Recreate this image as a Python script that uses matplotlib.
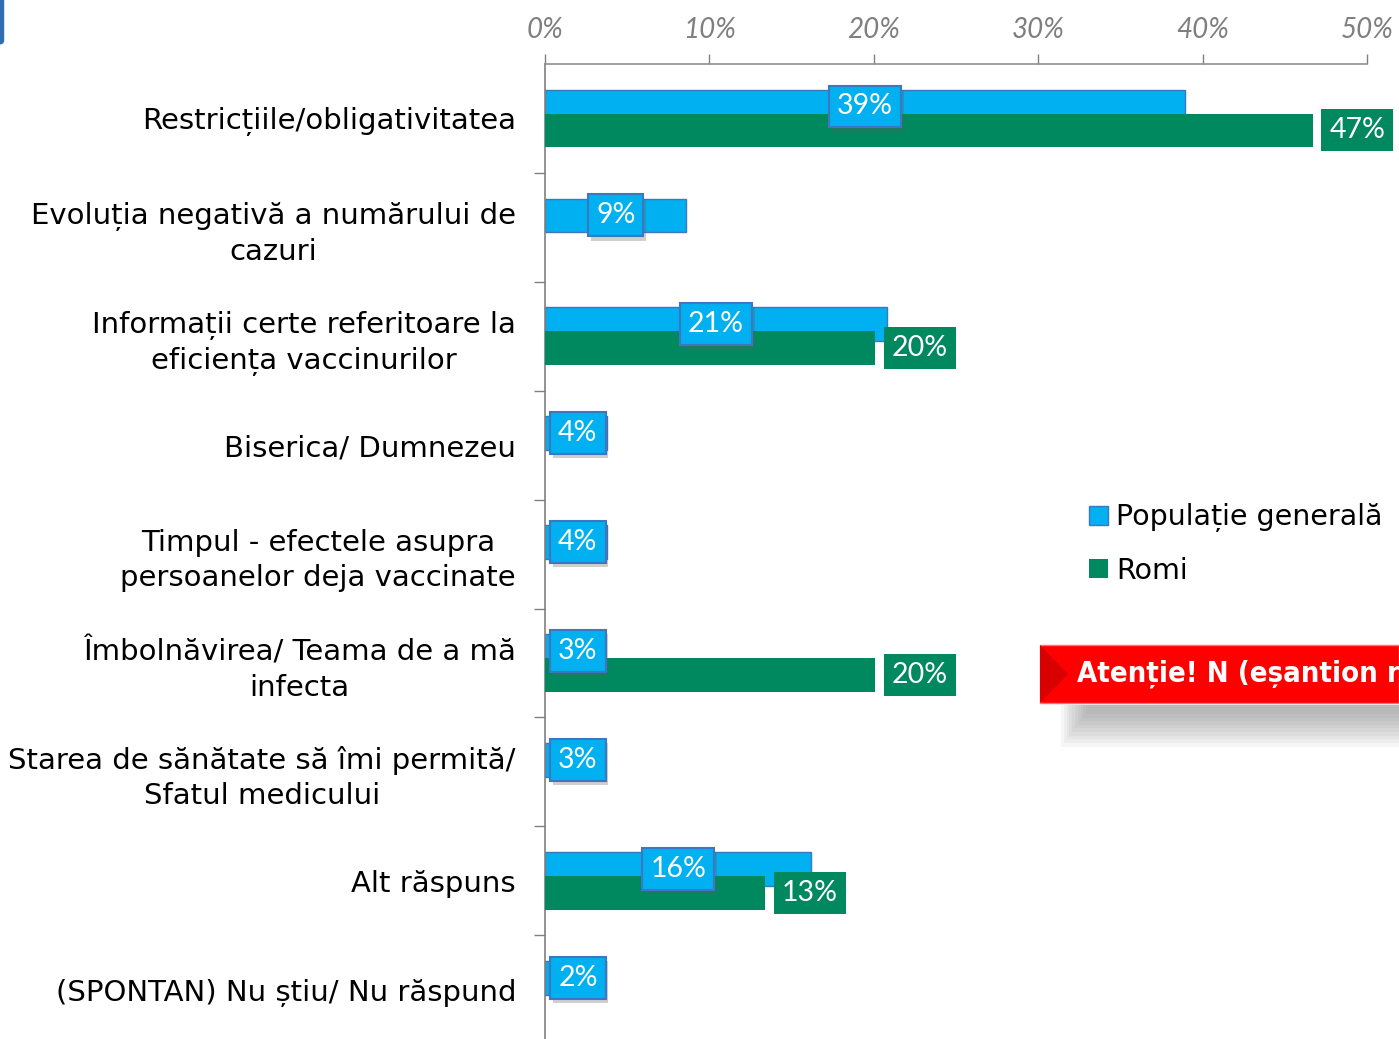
import numpy as np
import matplotlib
matplotlib.use("Agg")
import matplotlib.pyplot as plt
import matplotlib.patheffects as pe
from matplotlib.patches import Rectangle, Polygon, FancyBboxPatch
from matplotlib.font_manager import FontProperties

categories = [
    "Restricțiile/obligativitatea",
    "Evoluția negativă a numărului de\ncazuri",
    "Informații certe referitoare la\neficiența vaccinurilor",
    "Biserica/ Dumnezeu",
    "Timpul - efectele asupra\npersoanelor deja vaccinate",
    "Îmbolnăvirea/ Teama de a mă\ninfecta",
    "Starea de sănătate să îmi permită/\nSfatul medicului",
    "Alt răspuns",
    "(SPONTAN) Nu știu/ Nu răspund",
]
populatie = [38.9, 8.6, 20.8, 3.8, 3.8, 2.6, 2.6, 16.2, 2.0]
romi = [46.7, np.nan, 20.1, np.nan, np.nan, 20.1, np.nan, 13.4, np.nan]
series_names = ["Populație generală", "Romi"]
x_ticks = [0, 10, 20, 30, 40, 50]

BLUE = "#00B0F0"
BLUE_EDGE = "#3F76C2"
GREEN = "#00885F"
GREY = "#808080"

LABEL_FONT = ["DejaVu Sans"]
NUM_FONT = ["Lato", "DejaVu Sans"]

fig = plt.figure(figsize=(13.99, 10.39), dpi=100)
ax = fig.add_axes([545 / 1399, -0.005, 822 / 1399, 1 - 64 / 1039 + 0.005])

y = np.arange(len(categories))
off, h = 0.11, 0.31
ax.barh(y - off, populatie, height=h, color=BLUE, edgecolor=BLUE_EDGE, linewidth=1, zorder=2)
ax.barh(y + off, romi, height=h, color=GREEN, zorder=3)

ax.set_xlim(0, 50)
ax.set_ylim(len(categories) - 0.5, -0.5)

# etichete valori - populatie (centrate pe bara)
for yi, v in zip(y, populatie):
    t = ax.text(max(v / 2, 2.0), yi - off, f"{v:.0f}%", ha="center", va="center",
                color="white", fontsize=20.5, family=NUM_FONT, zorder=6,
                bbox=dict(boxstyle="square,pad=0.28", fc=BLUE, ec=BLUE_EDGE, lw=1.5))
    t.get_bbox_patch().set_path_effects(
        [pe.SimplePatchShadow(offset=(2, -3), shadow_rgbFace="#606060", alpha=0.3), pe.Normal()])

# etichete valori - romi (la capatul barei)
for yi, v in zip(y, romi):
    if np.isnan(v):
        continue
    ax.annotate(f"{v:.0f}%", xy=(v, yi + off), xytext=(12, 0), textcoords="offset points",
                ha="left", va="center", color="white", fontsize=20.5, family=NUM_FONT,
                zorder=6, bbox=dict(boxstyle="square,pad=0.28", fc=GREEN, ec="none"))

# axa x sus
ax.xaxis.tick_top()
ax.set_xticks(x_ticks)
ax.set_xticklabels([f"{t}%" for t in x_ticks], fontsize=20, style="italic",
                   color="#7F7F7F", family=NUM_FONT)
ax.tick_params(axis="x", which="major", length=7, width=1, color=GREY, pad=8)
for tk in ax.xaxis.get_major_ticks():
    tk.tick2line.set_linestyle((0, (1, 1)))

# axa y
ax.set_yticks(y)
ax.set_yticklabels(categories, fontsize=21, color="black", ha="center",
                   multialignment="center", family=LABEL_FONT, linespacing=1.32)
ax.set_yticks(np.arange(len(categories) - 1) + 0.5, minor=True)
ax.tick_params(axis="y", which="major", length=0, pad=0)
ax.tick_params(axis="y", which="minor", length=8, width=1, color=GREY)
fig.canvas.draw()
r = fig.canvas.get_renderer()
for lab in ax.get_yticklabels():
    bb = lab.get_window_extent(r)
    lab.set_transform(lab.get_transform() + matplotlib.transforms.ScaledTranslation(
        -(29 + bb.width / 2) / 100, 0, fig.dpi_scale_trans))

for s in ["right", "bottom"]:
    ax.spines[s].set_visible(False)
ax.spines["left"].set_color(GREY)
ax.spines["left"].set_linewidth(1.2)
ax.spines["top"].set_color("#909090")
ax.spines["top"].set_linestyle((0, (1, 1)))
ax.spines["top"].set_linewidth(1.2)

# legenda
handles = [Rectangle((0, 0), 1, 1, fc=BLUE, ec=BLUE_EDGE, lw=1),
           Rectangle((0, 0), 1, 1, fc=GREEN, ec="none")]
fig.legend(handles, series_names, loc="upper left",
           bbox_to_anchor=(1078 / 1399, 1 - 492 / 1039), frameon=False,
           prop=FontProperties(family="DejaVu Sans", size=20.5),
           handlelength=0.65, handleheight=0.65,
           handletextpad=0.3, labelspacing=0.85, borderaxespad=0)

# banner rosu
by0, by1 = 1 - 703 / 1039, 1 - 645 / 1039
bx0 = 1040 / 1399
for i in range(10):
    fig.patches.append(Rectangle((bx0 + 0.015 + i * 0.002, by0 - 0.042 + i * 0.0035),
                                 1.0, 0.04 - i * 0.0035, transform=fig.transFigure,
                                 fc="#808080", ec="none", alpha=0.07))
fig.patches.append(Rectangle((bx0, by0), 1 - bx0, by1 - by0, transform=fig.transFigure,
                             fc="#FF0000", ec="#FF7070", lw=1))
fig.patches.append(Polygon([(bx0, by0), (bx0 + 0.02, (by0 + by1) / 2), (bx0, by1)],
                           closed=True, transform=fig.transFigure, fc="#D80000", ec="none"))
fig.text(1077 / 1399, (by0 + by1) / 2, "Atenție! N (eșantion redus)", color="white",
         fontsize=21, fontweight="bold", ha="left", va="center",
         family=LABEL_FONT, fontstretch="condensed")

# coltul albastru stanga sus
fig.patches.append(FancyBboxPatch((-0.01, 0.957), 0.013, 0.06, transform=fig.transFigure,
                                  boxstyle="round,pad=0,rounding_size=0.004",
                                  fc="#2E6DB4", ec="none"))

fig.savefig("out.png", dpi=100)
